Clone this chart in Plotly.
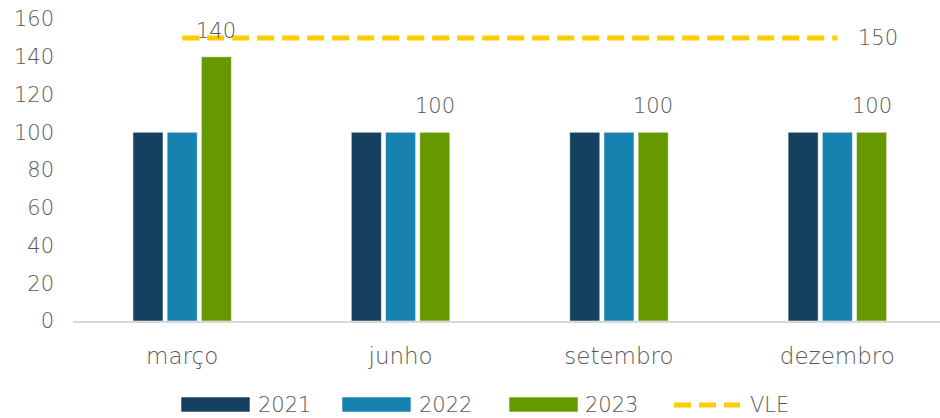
import plotly.graph_objects as go

# Quarterly values per year and the VLE reference level
categories = ["março", "junho", "setembro", "dezembro"]
years = ["2021", "2022", "2023"]
values_2021 = [100, 100, 100, 100]
values_2022 = [100, 100, 100, 100]
values_2023 = [140, 100, 100, 100]
vle = [150, 150, 150, 150]
y_ticks = [0, 20, 40, 60, 80, 100, 120, 140, 160]

colors = {"2021": "#15405F", "2022": "#1781B0", "2023": "#669900", "VLE": "#FFCC00"}
text_color = "#595959"
font_family = "DejaVu Sans"
font_weight = 200
font_size = 21

W, H = 940, 418
M_L, M_R, M_T, M_B = 73, 0, 19, 97
BARGAP, GROUPGAP = 0.53, 0.12

x_idx = list(range(len(categories)))
series = [values_2021, values_2022, values_2023]

base_font = dict(size=font_size, color=text_color, family=font_family, weight=font_weight)

fig = go.Figure()
for name, vals in zip(years, series):
    fig.add_trace(go.Bar(
        x=x_idx, y=vals, name=name,
        marker=dict(color=colors[name], line=dict(color="rgba(255,255,255,0.55)", width=1)),
        showlegend=False,
    ))

fig.add_trace(go.Scatter(
    x=x_idx, y=vle, name="VLE", mode="lines",
    line=dict(color=colors["VLE"], width=5, dash="17px,8px"),
    showlegend=False,
))

# value label next to the last point of the VLE line
fig.add_annotation(
    x=x_idx[-1], y=vle[-1], text=str(vle[-1]), showarrow=False,
    xanchor="left", xshift=19, yanchor="middle", font=base_font,
)

# value labels above the 2023 bars (third bar of each group)
slot = (1 - BARGAP) / len(years)
offset_2023 = slot * (2 - (len(years) - 1) / 2)
for i, v in zip(x_idx, values_2023):
    fig.add_annotation(
        x=i + offset_2023, y=v, text=str(v), showarrow=False,
        yanchor="middle", yshift=26, font=base_font,
    )

# Legend drawn as wide swatches with labels below the chart
plot_w = W - M_L - M_R
plot_h = H - M_T - M_B


def px_x(px):
    return (px - M_L) / plot_w


def px_y(py):
    return (H - M_B - py) / plot_h


legend_items = [
    ("2021", 181, 256),
    ("2022", 342, 417),
    ("2023", 509, 583),
]
for name, sx, tx in legend_items:
    fig.add_shape(
        type="rect", xref="paper", yref="paper",
        x0=px_x(sx), x1=px_x(sx + 69), y0=px_y(412), y1=px_y(397),
        fillcolor=colors[name], line=dict(color="rgba(255,255,255,0.55)", width=1),
    )
    fig.add_annotation(
        xref="paper", yref="paper", x=px_x(tx), y=px_y(405), text=name,
        showarrow=False, xanchor="left", yanchor="middle", font=base_font,
    )

fig.add_shape(
    type="line", xref="paper", yref="paper",
    x0=px_x(674), x1=px_x(740), y0=px_y(405), y1=px_y(405),
    line=dict(color=colors["VLE"], width=5, dash="17px,8px"),
)
fig.add_annotation(
    xref="paper", yref="paper", x=px_x(748), y=px_y(405), text="VLE",
    showarrow=False, xanchor="left", yanchor="middle", font=base_font,
)

fig.update_layout(
    width=W, height=H,
    margin=dict(l=M_L, r=M_R, t=M_T, b=M_B, pad=0),
    paper_bgcolor="white", plot_bgcolor="white",
    barmode="group", bargap=BARGAP, bargroupgap=GROUPGAP,
    font=base_font,
    showlegend=False,
)
fig.update_xaxes(
    range=[-0.5, 3.47], tickmode="array", tickvals=x_idx, ticktext=categories,
    showgrid=False, zeroline=False, showline=True, linecolor="#D9D9D9", linewidth=2,
    ticks="", ticklabelstandoff=13, tickfont=dict(base_font, size=23),
)
fig.update_yaxes(
    range=[0, 160], tickmode="array", tickvals=y_ticks,
    showgrid=False, zeroline=False, showline=False,
    ticks="", ticklabelstandoff=18, tickfont=base_font,
)

fig.write_html("out.html")
